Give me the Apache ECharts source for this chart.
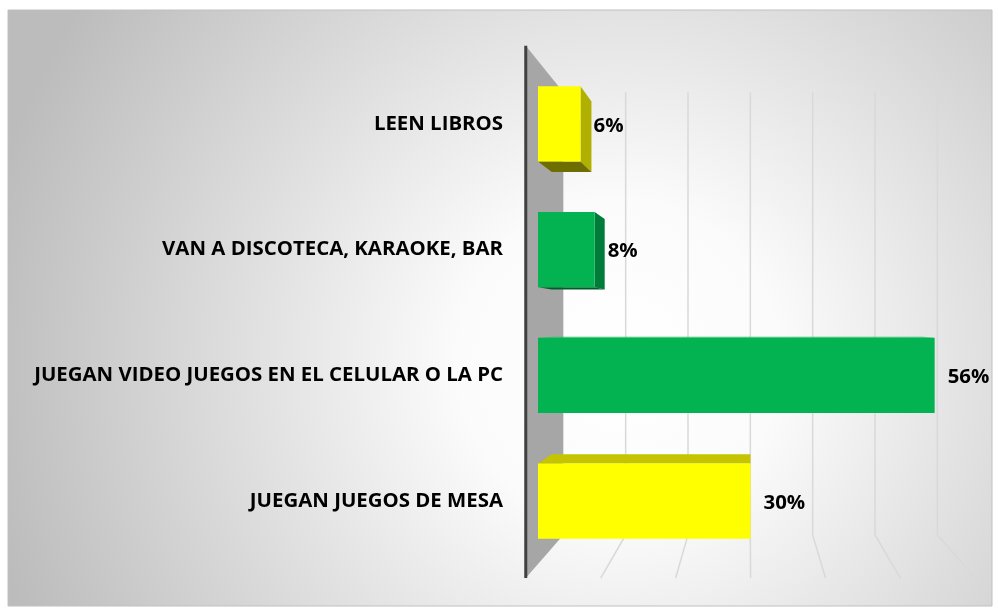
<!DOCTYPE html>
<html>
<head>
<meta charset="utf-8">
<script src="https://cdn.jsdelivr.net/npm/echarts@6/dist/echarts.min.js"></script>
<style>
html,body{margin:0;padding:0;background:#ffffff;}
#chart{width:998px;height:610px;}
</style>
</head>
<body>
<div id="chart"></div>
<script>
// ---- data ----
const categories = ['JUEGAN JUEGOS DE MESA', 'JUEGAN VIDEO JUEGOS EN EL CELULAR O LA PC', 'VAN A DISCOTECA, KARAOKE, BAR', 'LEEN LIBROS'];
const values = [30, 56, 8, 6];
const barColorKeys = ['yellow', 'green', 'green', 'yellow'];
const xTicks = [0, 10, 20, 30, 40, 50, 60];

// ---- styling ----
const palette = {
  yellow: { front: '#ffff00', side: '#b0b000', bottom: '#6e6e00', top: '#c4c400' },
  green:  { front: '#03b352', side: '#007c3a', bottom: '#005c2c', top: '#2fc46c' }
};
const S_BACK = 0.88, S_BAR = 0.935, S_FLOOR = 1.058;
const VP_VALUE = 29.8, VP_YFRAC = 0.519;
const FONT = '"Open Sans"';
const FW = 'bold';
const FS = 20.4;

const chart = echarts.init(document.getElementById('chart'));

function vp(api, cs) {
  return [api.coord([VP_VALUE, 0])[0], cs.y + cs.height * VP_YFRAC];
}
function proj(v, x, y, s) { return [v[0] + (x - v[0]) * s, v[1] + (y - v[1]) * s]; }

function renderFrame(params, api) {
  const cs = params.coordSys;
  const V = vp(api, cs);
  const val = api.value(0);
  const fx = api.coord([val, 0])[0];
  const top = cs.y, bot = cs.y + cs.height;
  const children = [];
  const lineStyle = { stroke: '#d9d9d9', lineWidth: 1.5 };
  if (val === 0) {
    const p1 = proj(V, fx, top, S_FLOOR), p2 = proj(V, fx, top, S_BACK),
          p3 = proj(V, fx, bot, S_BACK), p4 = proj(V, fx, bot, S_FLOOR);
    children.push({ type: 'polygon', shape: { points: [p1, p2, p3, p4] }, style: { fill: '#a6a6a6' } });
    children.push({ type: 'line', shape: { x1: p1[0], y1: p1[1], x2: p4[0], y2: p4[1] }, style: { stroke: '#404040', lineWidth: 3 } });
  } else {
    const b1 = proj(V, fx, top, S_BACK), b2 = proj(V, fx, bot, S_BACK), f2 = proj(V, fx, bot, S_FLOOR);
    children.push({ type: 'polyline', shape: { points: [b1, b2, f2] }, style: Object.assign({ fill: null }, lineStyle) });
  }
  return { type: 'group', children: children };
}

function renderBar(params, api) {
  const cs = params.coordSys;
  const V = vp(api, cs);
  const val = api.value(0), cat = api.value(1);
  const c = palette[barColorKeys[params.dataIndex]];
  const end = api.coord([val, cat]);
  const x0 = api.coord([0, cat])[0];
  const fx = end[0];
  const h = api.size([0, 1])[1] * 0.6;
  const top = end[1] - h / 2, bot = end[1] + h / 2;
  const children = [];
  if (fx < V[0]) {
    children.push({ type: 'polygon', shape: { points: [[fx, top], [fx, bot], proj(V, fx, bot, S_BAR), proj(V, fx, top, S_BAR)] }, style: { fill: c.side } });
  }
  if (top > V[1]) {
    children.push({ type: 'polygon', shape: { points: [[x0, top], [fx, top], proj(V, fx, top, S_BAR), proj(V, x0, top, S_BAR)] }, style: { fill: c.top } });
  }
  if (bot < V[1]) {
    children.push({ type: 'polygon', shape: { points: [[x0, bot], [fx, bot], proj(V, fx, bot, S_BAR), proj(V, x0, bot, S_BAR)] }, style: { fill: c.bottom } });
  }
  children.push({ type: 'rect', shape: { x: x0, y: top, width: fx - x0, height: bot - top }, style: { fill: c.front } });
  children.push({ type: 'text', x: fx + 13, y: end[1] + 2, style: { text: val + '%', fill: '#000000', font: FW + ' ' + FS + 'px ' + FONT, textAlign: 'left', textVerticalAlign: 'middle' } });
  return { type: 'group', children: children };
}

chart.setOption({
  animation: false,
  graphic: [{
    type: 'rect', z: -10, silent: true,
    shape: { x: 8, y: 10, width: 984, height: 596 },
    style: {
      fill: { type: 'radial', x: 0.62, y: 0.59, r: 1.08, colorStops: [
        { offset: 0, color: '#ffffff' }, { offset: 0.25, color: '#fbfbfb' }, { offset: 1, color: '#bcbcbc' }] },
      stroke: '#c0c0c0', lineWidth: 1
    }
  }],
  grid: { left: 538, right: 35, top: 61, bottom: 46, containLabel: false },
  xAxis: { type: 'value', min: 0, max: 60, interval: 10, show: false },
  yAxis: {
    type: 'category', data: categories,
    axisLine: { show: false }, axisTick: { show: false }, splitLine: { show: false },
    axisLabel: { color: '#000000', fontFamily: 'Open Sans', fontWeight: FW, fontSize: FS, margin: 35 }
  },
  series: [
    { type: 'custom', name: 'frame', renderItem: renderFrame, data: xTicks.map(t => [t, 0]), encode: { x: 0, y: 1 }, z: 1, silent: true },
    { type: 'custom', name: 'bars', renderItem: renderBar, data: values.map((v, i) => [v, i]), encode: { x: 0, y: 1 }, z: 2 }
  ]
});
</script>
</body>
</html>
